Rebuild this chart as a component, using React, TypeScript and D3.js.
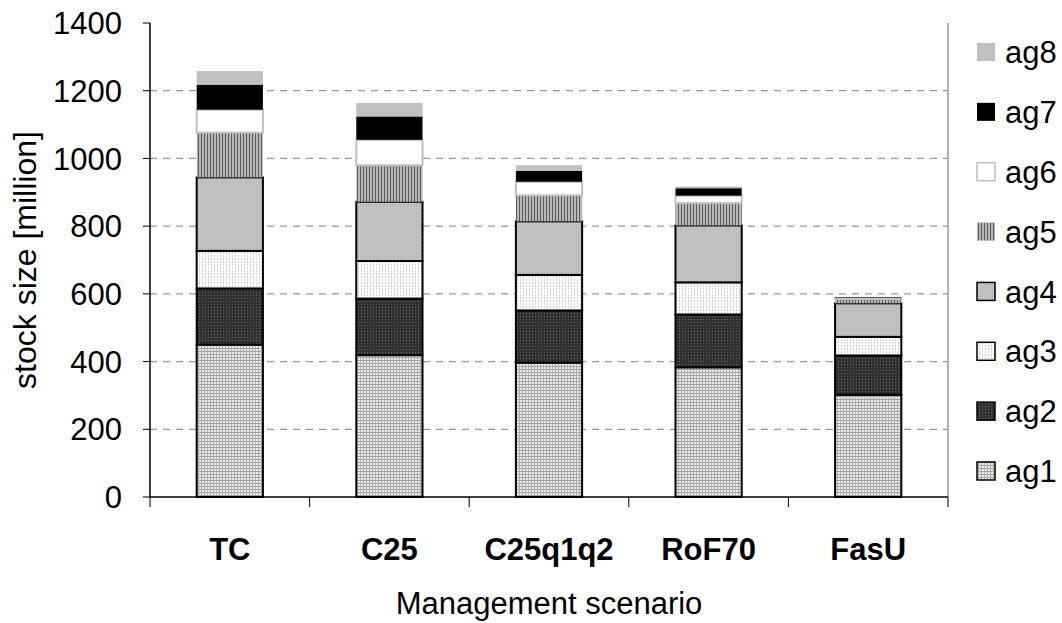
import React from "react";
import * as d3 from "d3";

const categories = ["TC", "C25", "C25q1q2", "RoF70", "FasU"];
const seriesKeys = ["ag1", "ag2", "ag3", "ag4", "ag5", "ag6", "ag7", "ag8"];
const ag1 = [450, 419, 397, 383, 302];
const ag2 = [166, 167, 154, 156, 116];
const ag3 = [111, 111, 105, 95, 55];
const ag4 = [217, 175, 158, 168, 99];
const ag5 = [132, 108, 77, 66, 13];
const ag6 = [68, 75, 40, 22, 3];
const ag7 = [74, 69, 32, 22, 2];
const ag8 = [40, 40, 17, 5, 1];
const yTicks = [0, 200, 400, 600, 800, 1000, 1200, 1400];
const gridTicks = [200, 400, 600, 800, 1000, 1200];

const seriesValues = [ag1, ag2, ag3, ag4, ag5, ag6, ag7, ag8];

const W = 1062;
const H = 623;
const left = 150;
const right = 948;
const top = 23;
const bottom = 497;
const FONT = "'Liberation Sans', Arial, sans-serif";
const FS = 31;

const fills: Record<string, string> = {
  ag1: "url(#p1)",
  ag2: "url(#p2)",
  ag3: "url(#p3)",
  ag4: "url(#p4)",
  ag5: "url(#p5)",
  ag6: "#ffffff",
  ag7: "#000000",
  ag8: "#c0c0c0",
};
const strokes: Record<string, string> = {
  ag1: "#000",
  ag2: "#000",
  ag3: "#000",
  ag4: "#000",
  ag5: "none",
  ag6: "#c0c0c0",
  ag7: "none",
  ag8: "none",
};

export default function App() {
  const rows = categories.map((c, i) => {
    const r: any = { cat: c };
    seriesKeys.forEach((k, j) => (r[k] = seriesValues[j][i]));
    return r;
  });
  const stack = d3.stack().keys(seriesKeys)(rows);
  const x = d3.scaleBand().domain(categories).range([left, right]).padding(0);
  const y = d3.scaleLinear().domain([0, 1400]).range([bottom, top]);
  const barW = x.bandwidth() * 0.415;
  const legendY = d3
    .scalePoint()
    .domain([...seriesKeys].reverse())
    .range([52, 471]);
  const boundaries = [...categories.map((c) => x(c) as number), right];

  return (
    <svg width={W} height={H} style={{ position: "absolute", left: 0, top: 0, background: "#fff" }}>
      <defs>
        <pattern id="p1" width="3" height="3" patternUnits="userSpaceOnUse">
          <rect width="3" height="3" fill="#ececec" />
          <rect width="3" height="1" fill="#a0a0a0" />
          <rect width="1" height="3" fill="#acacac" />
        </pattern>
        <pattern id="p2" width="3" height="3" patternUnits="userSpaceOnUse">
          <rect width="3" height="3" fill="#303030" />
          <rect x="1" y="1" width="1" height="1" fill="#666" />
        </pattern>
        <pattern id="p3" width="3" height="3" patternUnits="userSpaceOnUse">
          <rect width="3" height="3" fill="#ffffff" />
          <rect x="1" y="0" width="1" height="2" fill="#d4d4d4" />
        </pattern>
        <pattern id="p4" width="2" height="2" patternUnits="userSpaceOnUse">
          <rect width="2" height="2" fill="#c8c8c8" />
          <rect x="0" y="0" width="1" height="1" fill="#b2b2b2" />
          <rect x="1" y="1" width="1" height="1" fill="#bcbcbc" />
        </pattern>
        <pattern id="p5" width="3" height="3" patternUnits="userSpaceOnUse">
          <rect width="3" height="3" fill="#b8b8b8" />
          <rect x="0" width="1" height="3" fill="#5a5a5a" />
        </pattern>
      </defs>

      {/* gridlines */}
      {gridTicks.map((t) => (
        <line key={t} x1={left} x2={right} y1={y(t)} y2={y(t)} stroke="#999" strokeWidth={1.3} strokeDasharray="7,6" />
      ))}
      {/* right border */}
      <line x1={right} x2={right} y1={top} y2={bottom} stroke="#999" strokeWidth={1.5} />

      {/* bars */}
      {stack.map((s) =>
        s.map((d, i) => {
          const cat = categories[i];
          const cx = (x(cat) as number) + x.bandwidth() / 2;
          const y0 = y(d[0]);
          const y1 = y(d[1]);
          const k = s.key;
          return (
            <rect
              key={k + cat}
              x={cx - barW / 2}
              y={y1}
              width={barW}
              height={Math.max(0, y0 - y1)}
              fill={fills[k]}
              stroke={strokes[k]}
              strokeWidth={2}
            />
          );
        })
      )}

      {/* axes */}
      <line x1={left} x2={left} y1={top} y2={bottom} stroke="#000" strokeWidth={1.5} />
      <line x1={left} x2={right} y1={bottom} y2={bottom} stroke="#000" strokeWidth={1.5} />
      {yTicks.map((t) => (
        <g key={t}>
          <line x1={left - 7} x2={left} y1={y(t)} y2={y(t)} stroke="#000" strokeWidth={1} />
          <text x={122} y={y(t)} dy="0.36em" textAnchor="end" fontFamily={FONT} fontSize={FS} fill="#000">
            {t}
          </text>
        </g>
      ))}
      {boundaries.map((b, i) => (
        <line key={i} x1={b} x2={b} y1={bottom} y2={bottom + 10} stroke="#000" strokeWidth={1} />
      ))}
      {categories.map((c) => (
        <text
          key={c}
          x={(x(c) as number) + x.bandwidth() / 2}
          y={560}
          textAnchor="middle"
          fontFamily={FONT}
          fontSize={FS}
          fontWeight="bold"
          fill="#000"
        >
          {c}
        </text>
      ))}
      <text x={(left + right) / 2} y={614} textAnchor="middle" fontFamily={FONT} fontSize={FS} fill="#000">
        Management scenario
      </text>
      <text
        transform={`translate(36, ${(top + bottom) / 2}) rotate(-90)`}
        textAnchor="middle"
        fontFamily={FONT}
        fontSize={32}
        fill="#000"
      >
        stock size [million]
      </text>

      {/* legend */}
      {seriesKeys.map((k) => {
        const ly = legendY(k) as number;
        return (
          <g key={k}>
            <rect
              x={977}
              y={ly - 9}
              width={18}
              height={18}
              fill={fills[k]}
              stroke={strokes[k] === "none" ? "none" : strokes[k]}
              strokeWidth={1.5}
            />
            <text x={1005} y={ly} dy="0.36em" fontFamily={FONT} fontSize={FS} fill="#000">
              {k}
            </text>
          </g>
        );
      })}
    </svg>
  );
}
